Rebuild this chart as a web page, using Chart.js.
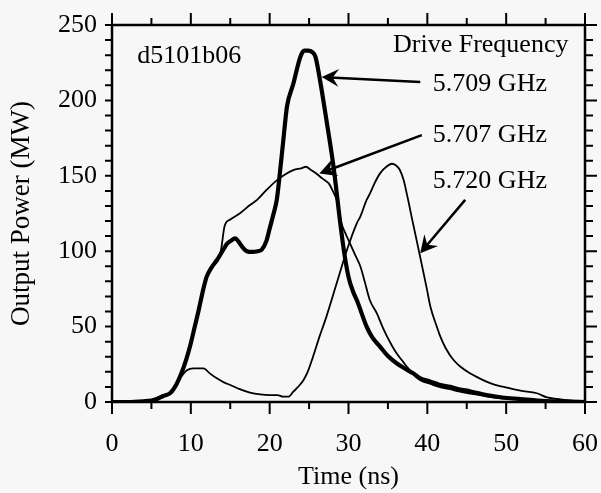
<!DOCTYPE html>
<html>
<head>
<meta charset="utf-8">
<script src="https://cdn.jsdelivr.net/npm/chart.js@4.4.1/dist/chart.umd.min.js"></script>
<style>
  html, body { margin: 0; padding: 0; background: #f7f7f7; }
</style>
</head>
<body>
<canvas id="grafico" width="601" height="493"></canvas>
<script>
// series: time (ns) and output power (MW)
const seriesNames = ['5.709 GHz', '5.707 GHz', '5.720 GHz'];

const time709 = [0, 2, 4, 5, 5.7, 6.5, 7.4, 8.2, 8.8, 9.4, 9.9, 10.5, 11.0, 11.5, 12.0, 12.6, 13.3, 14.0, 14.6, 15.1,
  15.6, 16.1, 16.5, 17.1, 17.8, 18.5, 19.0, 19.6, 20.0, 20.5, 20.9, 21.3, 21.7, 22.2, 23.0, 23.9, 24.4, 24.9, 25.4, 25.8,
  26.4, 27.2, 28.1, 28.9, 29.4, 30.0, 30.6, 31.1, 32.3, 33.0, 34.0, 35.0, 36.1, 37.2, 38.2, 39.1, 40.4, 41.5, 42.9, 44.0,
  45.5, 47.5, 49.5, 51.8, 54, 56, 58, 60];
const power709 = [0, 0, 0.5, 1, 2, 4, 6, 12, 19, 28, 37, 50, 61, 73, 83, 89, 94, 100, 105, 107,
  108.5, 106, 103, 100, 99.5, 100, 101, 107, 115, 125, 134, 152, 172, 196, 211, 229, 233, 233, 232, 229,
  213, 187, 156, 121, 101, 83, 73, 67, 50, 43, 36.7, 30.5, 25.7, 22, 19, 15.7, 13.5, 11.5, 10, 8.5,
  7, 4.6, 3, 2, 1, 0.5, 0.3, 0];

const time707 = [0, 2, 4, 5, 5.7, 6.5, 7.4, 8.2, 8.8, 9.4, 9.9, 10.5, 11.0, 11.5, 12.0, 12.6, 13.3, 13.8, 14.3, 15.0,
  16.2, 17.5, 18.4, 19.6, 20.9, 22.0, 23.0, 24.0, 24.6, 25.2, 25.8, 26.4, 27.0, 27.5, 28.0, 28.5, 29.1, 29.6, 30.2, 30.8,
  31.5, 32.1, 32.7, 33.6, 34.3, 34.9, 35.5, 36.1, 36.8, 37.4, 38.2, 39.1, 40.4, 41.5, 42.9, 44, 45.5, 47.5, 49.5, 51.8,
  54, 56, 58, 60];
const power707 = [0, 0, 0.5, 1, 2, 4, 6, 12, 19, 28, 37, 50, 61, 73, 83, 89, 94, 100, 117, 121,
  125, 130.6, 134, 140.6, 147, 151, 153.8, 155, 156, 154, 152, 149.4, 147, 145, 140, 134, 118.5, 112, 105, 98,
  90, 79, 67.6, 58.8, 50, 43.3, 37.5, 32.3, 27.5, 23.4, 18.5, 14.5, 12, 10, 8.5, 7, 5.5, 3.8, 2.4, 1.5,
  1, 0.5, 0.3, 0];

const time720 = [0, 2, 4, 5, 5.7, 6.5, 7.4, 8.2, 8.8, 9.5, 10.3, 11.0, 11.6, 12.4, 13.3, 14.2, 15.0, 16.2, 17.5, 18.8,
  20.0, 21.0, 21.7, 22.4, 23.0, 23.6, 24.3, 24.9, 25.5, 26.3, 27.2, 28.5, 29.8, 31.05, 31.5, 32.3, 32.7, 33.3, 34.0, 34.8,
  35.5, 36.0, 36.5, 37.0, 37.4, 38.2, 39.1, 39.9, 40.4, 41.2, 41.6, 42.3, 43.3, 44.3, 45.4, 46.5, 47.5, 48.5, 49.7, 51.8,
  53.9, 55.2, 56.5, 58, 60];
const power720 = [0, 0, 0.5, 1, 2, 4, 6, 12, 17, 21, 22.3, 22.3, 22.3, 19, 15.7, 13, 11.3, 8.5, 6.2, 5,
  4.6, 4.6, 3.5, 3.5, 6.8, 10, 14.6, 21, 30, 43, 56.6, 78.7, 100.8, 118.5, 123, 134, 138, 145, 151.6, 156,
  158, 157, 154, 147, 138, 118, 96, 76, 63, 50, 44, 36, 28, 23, 19, 16, 13.5, 11.5, 10, 7.5,
  5.8, 3, 2, 1, 0];

const fonte = 'Liberation Serif';

function pontos(ts, ps) {
  return ts.map((t, i) => ({ x: t, y: ps[i] }));
}

// frame with ticks on all four sides, notes and arrows
const moldura = {
  id: 'moldura',
  afterDraw(chart) {
    const { ctx, chartArea: a, scales: { x, y } } = chart;
    ctx.save();
    ctx.strokeStyle = '#000';
    ctx.fillStyle = '#000';
    ctx.lineWidth = 2.5;
    ctx.strokeRect(a.left, a.top, a.right - a.left, a.bottom - a.top);

    ctx.lineWidth = 2;
    ctx.beginPath();
    for (let v = 0; v <= 60; v += 5) {
      const px = x.getPixelForValue(v);
      const len = v % 10 === 0 ? 12 : 7;
      ctx.moveTo(px, a.bottom); ctx.lineTo(px, a.bottom + len);
      ctx.moveTo(px, a.top); ctx.lineTo(px, a.top - len);
    }
    for (let v = 0; v <= 250; v += 10) {
      const py = y.getPixelForValue(v);
      ctx.moveTo(a.left, py); ctx.lineTo(a.left - 7, py);
      ctx.moveTo(a.right, py); ctx.lineTo(a.right + (v % 50 === 0 ? 12 : 8), py);
    }
    ctx.stroke();

    // notes (data coordinates)
    const notas = [
      { txt: 'd5101b06', t: 3.2, p: 225, align: 'left' },
      { txt: 'Drive Frequency', t: 57.9, p: 232, align: 'right' },
      { txt: seriesNames[0], t: 40.7, p: 206, align: 'left' },
      { txt: seriesNames[1], t: 40.7, p: 172.5, align: 'left' },
      { txt: seriesNames[2], t: 40.7, p: 142, align: 'left' }
    ];
    ctx.font = '26px "' + fonte + '"';
    ctx.textBaseline = 'alphabetic';
    notas.forEach(n => {
      ctx.textAlign = n.align;
      ctx.fillText(n.txt, x.getPixelForValue(n.t), y.getPixelForValue(n.p));
    });

    const setas = [
      { de: [39.1, 212.2], para: [26.6, 215.5] },
      { de: [39.3, 177], para: [26.3, 151.5] },
      { de: [44.8, 134], para: [39.1, 98.7] }
    ];
    setas.forEach(s => {
      const x0 = x.getPixelForValue(s.de[0]), y0 = y.getPixelForValue(s.de[1]);
      const x1 = x.getPixelForValue(s.para[0]), y1 = y.getPixelForValue(s.para[1]);
      const ang = Math.atan2(y1 - y0, x1 - x0);
      ctx.lineWidth = 2.5;
      ctx.beginPath();
      ctx.moveTo(x0, y0);
      ctx.lineTo(x1 - 8 * Math.cos(ang), y1 - 8 * Math.sin(ang));
      ctx.stroke();
      ctx.save();
      ctx.translate(x1, y1);
      ctx.rotate(ang);
      ctx.beginPath();
      ctx.moveTo(0, 0);
      ctx.lineTo(-17, -9);
      ctx.lineTo(-11, 0);
      ctx.lineTo(-17, 9);
      ctx.closePath();
      ctx.fill();
      ctx.restore();
    });
    ctx.restore();
  }
};

const ctx = document.getElementById('grafico').getContext('2d');

const estilo = (largura) => ({
  borderColor: '#000',
  borderWidth: largura,
  pointRadius: 0,
  fill: false,
  cubicInterpolationMode: 'monotone'
});

new Chart(ctx, {
  type: 'line',
  data: {
    datasets: [
      { label: seriesNames[1], data: pontos(time707, power707), ...estilo(1.8) },
      { label: seriesNames[2], data: pontos(time720, power720), ...estilo(1.8) },
      { label: seriesNames[0], data: pontos(time709, power709), ...estilo(4.2) }
    ]
  },
  options: {
    responsive: false,
    animation: false,
    devicePixelRatio: 1,
    layout: { padding: { left: 0, top: 25, right: 16, bottom: 0 } },
    plugins: {
      legend: { display: false },
      tooltip: { enabled: false }
    },
    scales: {
      x: {
        type: 'linear',
        min: 0, max: 60,
        afterFit: s => { s.height = 91; s.paddingLeft = 0; s.paddingRight = 0; },
        ticks: { stepSize: 10, color: '#000', padding: 27, font: { family: fonte, size: 26 }, maxRotation: 0 },
        grid: { drawOnChartArea: false, drawTicks: false },
        border: { display: false },
        title: { display: true, text: 'Time (ns)', color: '#000', font: { family: fonte, size: 26 }, padding: { top: 0, bottom: 0 } }
      },
      y: {
        min: 0, max: 250,
        afterFit: s => { s.width = 112; s.paddingTop = 0; s.paddingBottom = 0; },
        ticks: { stepSize: 50, color: '#000', padding: 15, font: { family: fonte, size: 26 } },
        grid: { drawOnChartArea: false, drawTicks: false },
        border: { display: false },
        title: { display: true, text: 'Output Power (MW)', color: '#000', font: { family: fonte, size: 27 }, padding: { top: 6, bottom: 0 } }
      }
    }
  },
  plugins: [moldura]
});
</script>
</body>
</html>
